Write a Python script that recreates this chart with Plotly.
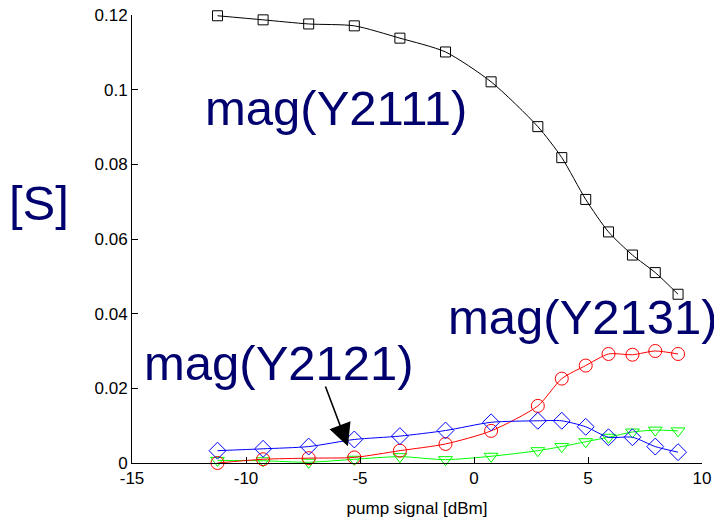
import plotly.graph_objects as go

pump_dbm = [-11.25, -9.25, -7.25, -5.25, -3.25, -1.25, 0.75, 2.8, 3.85, 4.9, 5.9, 6.95, 7.95, 8.95]
y2111 = [0.1198, 0.1187, 0.1176, 0.1171, 0.1138, 0.1101, 0.1021, 0.0901, 0.0818, 0.0706, 0.0619, 0.0557, 0.0510, 0.0452]
y2131 = [0.0000, 0.0010, 0.0013, 0.0015, 0.0033, 0.0051, 0.0086, 0.0153, 0.0226, 0.0261, 0.0292, 0.0290, 0.0300, 0.0292]
y2121 = [0.0033, 0.0038, 0.0044, 0.0063, 0.0072, 0.0087, 0.0109, 0.0113, 0.0113, 0.0097, 0.0069, 0.0069, 0.0044, 0.0029]
y_green = [0.0007, 0.0006, 0.0002, 0.0010, 0.0017, 0.0009, 0.0018, 0.0033, 0.0044, 0.0057, 0.0069, 0.0083, 0.0088, 0.0086]

x_ticks = [-15, -10, -5, 0, 5, 10]
x_tick_labels = ["-15", "-10", "-5", "0", "5", "10"]
y_ticks = [0, 0.02, 0.04, 0.06, 0.08, 0.1, 0.12]
y_tick_labels = ["0", "0.02", "0.04", "0.06", "0.08", "0.1", "0.12"]

FONT = "Liberation Sans, Arial, sans-serif"
NAVY = "#00006E"

fig = go.Figure()

def add(y, color, symbol, size):
    fig.add_trace(go.Scatter(
        x=pump_dbm, y=y, mode="lines+markers",
        line=dict(color=color, width=1, shape="spline", smoothing=0.7),
        marker=dict(symbol=symbol, size=size, color=color,
                    line=dict(color=color, width=1)),
        cliponaxis=False, showlegend=False))

add(y_green, "#00FF00", "triangle-down-open", 12)
add(y2131, "#FF0000", "circle-open", 13)
add(y2121, "#0000FF", "diamond-open", 13)
add(y2111, "#000000", "square-open", 10)

big = dict(family=FONT, size=49, color=NAVY)
fig.add_annotation(x=-6.07, y=0.0950, text="mag(Y2111)", showarrow=False, font=big,
                   xanchor="center", yanchor="middle")
fig.add_annotation(x=4.78, y=0.0392, text="mag(Y2131)", showarrow=False, font=big,
                   xanchor="center", yanchor="middle")
fig.add_annotation(x=-8.55, y=0.0267, text="mag(Y2121)", showarrow=False, font=big,
                   xanchor="center", yanchor="middle")
fig.add_annotation(x=-5.53, y=0.0045, ax=-6.54, ay=0.0209, axref="x", ayref="y",
                   xref="x", yref="y", text="", showarrow=True,
                   arrowhead=2, arrowsize=2.8, arrowwidth=1.6, arrowcolor="#000000")
fig.add_annotation(xref="x domain", yref="y domain",
                   x=(39 - 132) / 570, y=(463 - 203) / 448, text="[S]", showarrow=False,
                   font=big, xanchor="center", yanchor="middle")

fig.update_layout(
    width=714, height=521,
    margin=dict(l=132, r=12, t=15, b=58),
    paper_bgcolor="white", plot_bgcolor="white",
    font=dict(family=FONT, size=17, color="#000000"),
    xaxis=dict(range=[-15, 10], tickvals=x_ticks, ticktext=x_tick_labels,
               showgrid=False, zeroline=False, showline=True, linecolor="black",
               linewidth=1, ticks="inside", ticklen=6, tickcolor="black", automargin=False,
               title=dict(text="pump signal [dBm]", font=dict(size=17), standoff=14)),
    yaxis=dict(range=[0, 0.12], tickvals=y_ticks, ticktext=y_tick_labels,
               showgrid=False, zeroline=False, showline=True, linecolor="black",
               linewidth=1, ticks="inside", ticklen=6, tickcolor="black", automargin=False),
)

fig.write_html("out.html")
